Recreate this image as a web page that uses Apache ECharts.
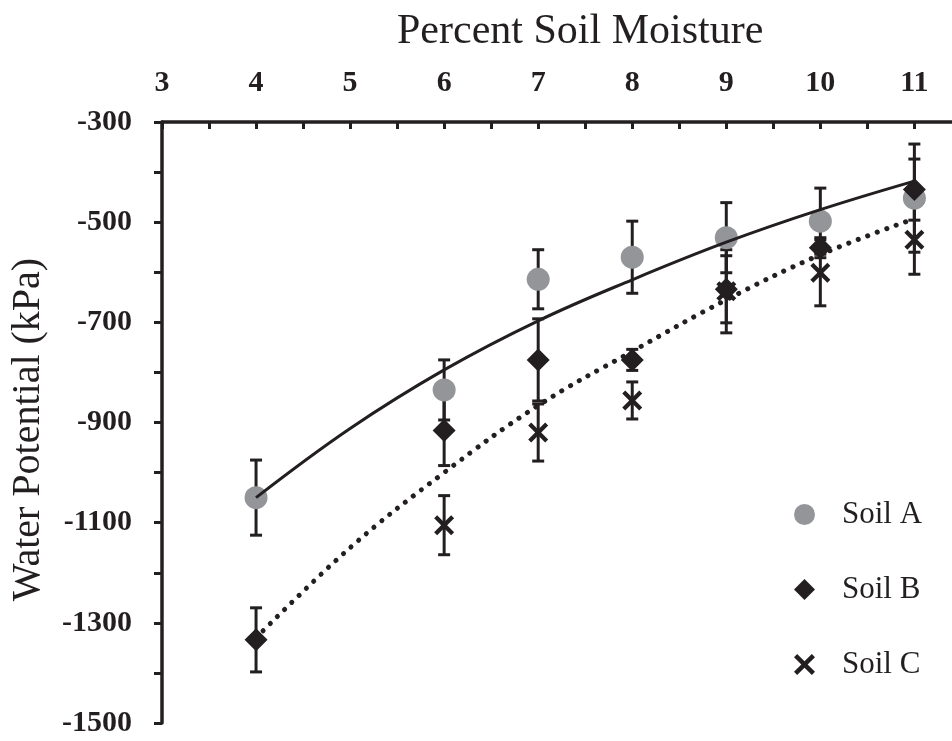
<!DOCTYPE html>
<html>
<head>
<meta charset="utf-8">
<script src="https://cdn.jsdelivr.net/npm/echarts@6/dist/echarts.min.js"></script>
<style>
  html, body { margin: 0; padding: 0; background: #fff; }
  #main { width: 952px; height: 741px; }
</style>
</head>
<body>
<div id="main"></div>
<script>
// moisture (%) of each sample
var moisture = [4, 6, 7, 8, 9, 10, 11];

// mean water potential (kPa) and error (+/-) per soil
var soilA = [-1050, -835, -614, -570, -531, -498, -452];
var soilAErr = [75, 60, 59, 72, 70, 66, 108];
var soilB = [-1334, -916, -775, -775, -634, -551, -435];
var soilBErr = [64, 70, 82, 21, 67, 20, 61];
var soilC = [null, -1105, -920, -856, -638, -601, -535];
var soilCErr = [null, 59, 57, 37, 83, 66, 69];

// fitted curves
var fitX = [4, 5, 6, 7, 8, 9, 10, 11];
var fitSolid = [-1050, -912, -795, -697, -615, -540, -475, -418];
var fitDotted = [-1330, -1150, -1000, -866, -758, -655, -565, -493];

var xTicks = [3, 4, 5, 6, 7, 8, 9, 10, 11];
var xMinorTicks = [3, 3.5, 4, 4.5, 5, 5.5, 6, 6.5, 7, 7.5, 8, 8.5, 9, 9.5, 10, 10.5, 11];

var ink = '#231f20';
var grey = '#939598';
var serif = 'Liberation Serif';
var crossPath = 'path://M3,0 L10,7 L17,0 L20,3 L13,10 L20,17 L17,20 L10,13 L3,20 L0,17 L7,10 L0,3 Z';

function pairs(xs, ys) {
  var out = [];
  for (var i = 0; i < xs.length; i++) {
    if (ys[i] !== null) out.push([xs[i], ys[i]]);
  }
  return out;
}

function errData(xs, ys, errs) {
  var out = [];
  for (var i = 0; i < xs.length; i++) {
    if (ys[i] !== null) out.push([xs[i], ys[i] - errs[i], ys[i] + errs[i]]);
  }
  return out;
}

function renderErr(params, api) {
  var lo = api.coord([api.value(0), api.value(1)]);
  var hi = api.coord([api.value(0), api.value(2)]);
  var half = 6;
  var style = { stroke: ink, lineWidth: 3 };
  return {
    type: 'group',
    children: [
      { type: 'line', shape: { x1: lo[0], y1: lo[1], x2: hi[0], y2: hi[1] }, style: style },
      { type: 'line', shape: { x1: lo[0] - half, y1: lo[1], x2: lo[0] + half, y2: lo[1] }, style: style },
      { type: 'line', shape: { x1: hi[0] - half, y1: hi[1], x2: hi[0] + half, y2: hi[1] }, style: style }
    ]
  };
}

var myChart = echarts.init(document.getElementById('main'));

var option = {
  backgroundColor: '#fff',
  animation: false,
  title: {
    text: 'Percent Soil Moisture',
    left: 392,
    top: 6,
    textStyle: { fontFamily: serif, fontSize: 42, fontWeight: 'normal', color: ink }
  },
  legend: {
    orient: 'vertical',
    left: 789,
    top: 494,
    itemWidth: 21,
    itemHeight: 21,
    itemGap: 44,
    textStyle: { fontFamily: serif, fontSize: 31, color: ink, padding: [0, 0, 0, 22] },
    data: ['Soil A', 'Soil B', 'Soil C']
  },
  grid: { left: 161, top: 122, right: 0, bottom: 18, containLabel: false },
  xAxis: {
    type: 'value',
    position: 'top',
    min: 3,
    max: 11.4,
    axisLine: { onZero: false, lineStyle: { color: ink, width: 3.5 } },
    axisTick: { inside: true, length: 7, customValues: xMinorTicks, lineStyle: { color: ink, width: 3 } },
    axisLabel: {
      customValues: xTicks,
      margin: 24,
      fontFamily: serif, fontSize: 30, fontWeight: 'bold', color: ink
    },
    splitLine: { show: false }
  },
  yAxis: {
    type: 'value',
    min: -1500,
    max: -300,
    interval: 200,
    name: 'Water Potential (kPa)',
    nameLocation: 'middle',
    nameRotate: 90,
    nameGap: 114,
    nameTextStyle: { fontFamily: serif, fontSize: 40, color: ink, padding: [0, 14, 0, 0] },
    axisLine: { onZero: false, lineStyle: { color: ink, width: 3.5 } },
    axisTick: { length: 8, lineStyle: { color: ink, width: 3 } },
    minorTick: { show: true, splitNumber: 2, length: 8, lineStyle: { color: ink, width: 3 } },
    axisLabel: {
      margin: 30, fontFamily: serif, fontSize: 30, fontWeight: 'bold', color: ink,
      formatter: function (v) { return String(v); }
    },
    splitLine: { show: false }
  },
  series: [
    { type: 'custom', name: 'errA', renderItem: renderErr, data: errData(moisture, soilA, soilAErr), z: 2 },
    { type: 'custom', name: 'errB', renderItem: renderErr, data: errData(moisture, soilB, soilBErr), z: 2 },
    { type: 'custom', name: 'errC', renderItem: renderErr, data: errData(moisture, soilC, soilCErr), z: 2 },
    {
      name: 'Soil A', type: 'scatter', symbol: 'circle', symbolSize: 23,
      itemStyle: { color: grey, opacity: 1 }, data: pairs(moisture, soilA), z: 3
    },
    {
      name: 'Soil B', type: 'scatter', symbol: 'diamond', symbolSize: [23, 23],
      itemStyle: { color: ink, opacity: 1 }, data: pairs(moisture, soilB), z: 4
    },
    {
      name: 'Soil C', type: 'scatter', symbol: crossPath, symbolSize: 20,
      itemStyle: { color: ink, opacity: 1 }, data: pairs(moisture, soilC), z: 4
    },
    {
      name: 'fitA', type: 'line', smooth: 0.4, showSymbol: false,
      lineStyle: { color: ink, width: 3 }, data: pairs(fitX, fitSolid), z: 5
    },
    {
      name: 'fitBC', type: 'line', smooth: 0.4, showSymbol: false,
      lineStyle: { color: ink, width: 5, type: [0.1, 10], cap: 'round' }, data: pairs(fitX, fitDotted), z: 5
    }
  ]
};

option && myChart.setOption(option);
</script>
</body>
</html>
